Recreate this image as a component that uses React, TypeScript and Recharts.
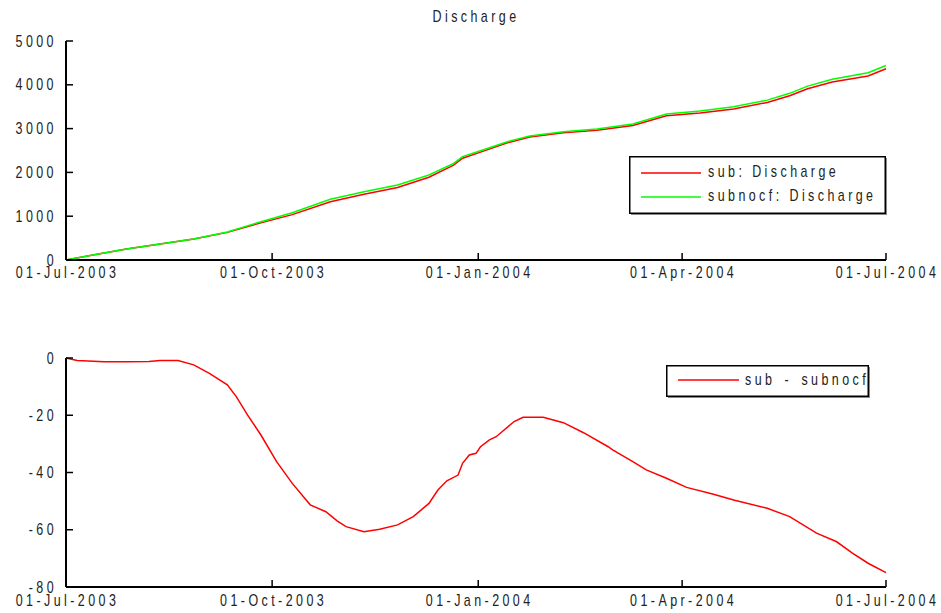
import React from 'react';
import { LineChart, Line, XAxis, YAxis } from 'recharts';

const FONT = "'Liberation Sans', Arial, sans-serif";

// days since 01-Jul-2003
const dateTicks = [0, 92, 184, 275, 366];
const dateLabels = ['01-Jul-2003', '01-Oct-2003', '01-Jan-2004', '01-Apr-2004', '01-Jul-2004'];

// cumulative discharge (top panel)
const qDays = [0, 12, 27, 42, 57, 72, 87, 101, 118, 133, 148, 162, 173, 177, 186, 197, 207, 222, 237, 253, 268, 283, 298, 313, 323, 331, 342, 358, 366];
const subQ = [0, 113, 249, 364, 478, 631, 848, 1036, 1330, 1499, 1654, 1889, 2165, 2323, 2480, 2675, 2809, 2907, 2962, 3069, 3291, 3354, 3450, 3597, 3750, 3911, 4062, 4203, 4365];
const subnocfQ = [0, 114, 250, 365, 480, 640, 875, 1080, 1385, 1560, 1712, 1940, 2207, 2360, 2510, 2700, 2830, 2930, 2990, 3105, 3333, 3400, 3500, 3650, 3805, 3970, 4125, 4275, 4440];
const qTicks = [0, 1000, 2000, 3000, 4000, 5000];

// sub - subnocf (bottom panel)
const dDays = [0, 5, 17, 27, 37, 42, 50, 57, 64, 72, 76, 81, 87, 94, 101, 109, 116, 121, 125, 133, 140, 148, 155, 162, 166, 170, 175, 177, 180, 183, 185, 189, 192, 200, 204, 213, 222, 231, 242, 244, 253, 259, 268, 277, 289, 298, 313, 323, 335, 344, 351, 358, 366];
const dVals = [0, -0.9, -1.3, -1.3, -1.2, -0.9, -0.9, -2.4, -5.4, -9.4, -13.5, -19.9, -26.9, -36.2, -43.8, -51.3, -53.7, -56.9, -58.9, -60.7, -59.8, -58.3, -55.4, -50.8, -46.1, -42.9, -40.9, -36.8, -33.9, -33.3, -31, -28.6, -27.5, -22.2, -20.7, -20.7, -22.6, -26.1, -31, -32.1, -36.2, -39.1, -42, -45.2, -47.6, -49.6, -52.5, -55.4, -61.2, -64.2, -68.2, -71.7, -75];
const dTicks = [-80, -60, -40, -20, 0];

const topData = qDays.map((d, i) => ({ day: d, sub: subQ[i], subnocf: subnocfQ[i] }));
const bottomData = dDays.map((d, i) => ({ day: d, diff: dVals[i] }));

const RED = '#ff0000';
const GREEN = '#00ff00';

const textStyle: React.CSSProperties = { fontFamily: FONT, fontSize: 16, letterSpacing: '4.4px', fill: '#222' };

// narrow, spaced-out text like the original plot
const SText = ({ x, y, anchor = 'start', dy, extra, children }: any) => (
  <text transform={`translate(${x},${y}) scale(0.78,1)`} textAnchor={anchor} dy={dy} style={{ ...textStyle, ...extra }}>
    {children}
  </text>
);

const XTick = (props: any) => {
  const { x, y, payload } = props;
  const idx = dateTicks.indexOf(payload.value);
  return <SText x={x + 1.5} y={y} dy="0.71em" anchor="middle">{idx >= 0 ? dateLabels[idx] : ''}</SText>;
};

const YTick = (props: any) => {
  const { x, y, payload } = props;
  return <SText x={x} y={y} dy="0.355em" anchor="end">{payload.value}</SText>;
};

const NoTick = () => <g />;

const axisLine = { stroke: '#000', strokeWidth: 2 };
const tickLine = { stroke: '#000', strokeWidth: 1.5 };

export default function App() {
  return (
    <div style={{ position: 'absolute', left: 0, top: 0, width: 941, height: 613, background: '#fff' }}>
      <div style={{ position: 'absolute', left: 0, top: 0 }}>
        <LineChart width={941} height={300} data={topData} margin={{ top: 41, right: 55, bottom: 10, left: 10 }}>
          <XAxis xAxisId="b" dataKey="day" type="number" domain={[0, 366]} ticks={dateTicks} interval={0}
            tickSize={-7} tickMargin={14} height={30} axisLine={axisLine} tickLine={tickLine} tick={XTick} />
          <XAxis xAxisId="t" orientation="top" dataKey="day" type="number" domain={[0, 366]} ticks={dateTicks} interval={0}
            tickSize={-7} height={0} axisLine={axisLine} tickLine={tickLine} tick={NoTick} />
          <YAxis yAxisId="l" type="number" domain={[0, 5000]} ticks={qTicks} interval={0}
            tickSize={-7} tickMargin={16} width={56} axisLine={axisLine} tickLine={tickLine} tick={YTick} />
          <YAxis yAxisId="r" orientation="right" type="number" domain={[0, 5000]} ticks={qTicks} interval={0}
            tickSize={-7} width={0} axisLine={axisLine} tickLine={tickLine} tick={NoTick} />
          <Line xAxisId="b" yAxisId="l" type="linear" dataKey="sub" stroke={RED} strokeWidth={1.5} dot={false} isAnimationActive={false} />
          <Line xAxisId="b" yAxisId="l" type="linear" dataKey="subnocf" stroke={GREEN} strokeWidth={1.5} dot={false} isAnimationActive={false} />
        </LineChart>
      </div>

      <div style={{ position: 'absolute', left: 0, top: 320 }}>
        <LineChart width={941} height={293} data={bottomData} margin={{ top: 38, right: 55, bottom: 0, left: 10 }}>
          <XAxis xAxisId="b" dataKey="day" type="number" domain={[0, 366]} ticks={dateTicks} interval={0}
            tickSize={-7} tickMargin={15} height={26} axisLine={axisLine} tickLine={tickLine} tick={XTick} />
          <XAxis xAxisId="t" orientation="top" dataKey="day" type="number" domain={[0, 366]} ticks={dateTicks} interval={0}
            tickSize={-7} height={0} axisLine={axisLine} tickLine={tickLine} tick={NoTick} />
          <YAxis yAxisId="l" type="number" domain={[-80, 0]} ticks={dTicks} interval={0}
            tickSize={-7} tickMargin={16} width={56} axisLine={axisLine} tickLine={tickLine} tick={YTick} />
          <YAxis yAxisId="r" orientation="right" type="number" domain={[-80, 0]} ticks={dTicks} interval={0}
            tickSize={-7} width={0} axisLine={axisLine} tickLine={tickLine} tick={NoTick} />
          <Line xAxisId="b" yAxisId="l" type="linear" dataKey="diff" stroke={RED} strokeWidth={1.5} dot={false} isAnimationActive={false} />
        </LineChart>
      </div>

      {/* title and legends */}
      <svg width={941} height={613} style={{ position: 'absolute', left: 0, top: 0, pointerEvents: 'none' }}>
        <SText x={476} y={22} anchor="middle">Discharge</SText>

        <rect x={631} y={158} width={256} height={57} fill="#888" />
        <rect x={629.75} y={156.75} width={255.5} height={56.5} fill="#fff" stroke="#000" strokeWidth={1.5} />
        <line x1={641} x2={701} y1={173} y2={173} stroke={RED} strokeWidth={1.5} />
        <SText x={708} y={177}>sub: Discharge</SText>
        <line x1={641} x2={701} y1={197} y2={197} stroke={GREEN} strokeWidth={1.5} />
        <SText x={708} y={201}>subnocf: Discharge</SText>

        <rect x={668} y={367} width={202} height={31} fill="#888" />
        <rect x={666.75} y={365.75} width={201.5} height={30.5} fill="#fff" stroke="#000" strokeWidth={1.5} />
        <line x1={678} x2={739} y1={380} y2={380} stroke={RED} strokeWidth={1.5} />
        <SText x={745} y={385} extra={{ wordSpacing: '3px' }}>sub - subnocf</SText>
      </svg>
    </div>
  );
}
